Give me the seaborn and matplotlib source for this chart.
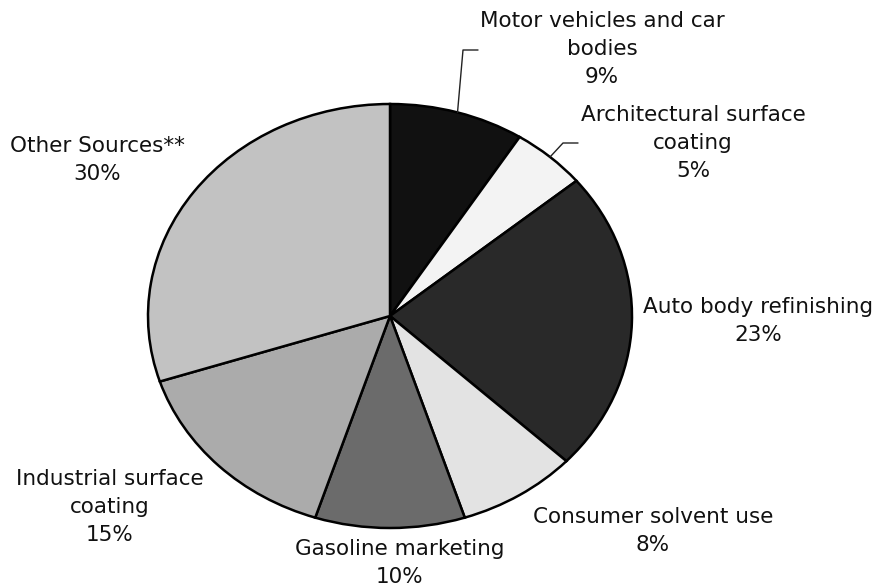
import matplotlib
matplotlib.use("Agg")
import matplotlib.pyplot as plt
from matplotlib.lines import Line2D
import numpy as np
import seaborn as sns

# Emission source shares (%), clockwise from 12 o'clock
sources = ["Motor vehicles and car\nbodies", "Architectural surface\ncoating",
           "Auto body refinishing", "Consumer solvent use", "Gasoline marketing",
           "Industrial surface\ncoating", "Other Sources**"]
shares = [9, 5, 23, 8, 10, 15, 30]
grays = ["#111111", "#f3f3f3", "#292929", "#e3e3e3", "#6b6b6b", "#ababab", "#c2c2c2"]

sns.set_style("white")
plt.rcParams["font.family"] = ["DejaVu Sans"]

W, H = 877, 588
fig = plt.figure(figsize=(W / 100, H / 100), dpi=100)

# pie is an ellipse in the original: center (390,316), radii 242 x 212 px
cx, cy, rx, ry = 390, 316, 242, 212
ax = fig.add_axes([0, 0, 1, 1])
wedges, _ = ax.pie(shares, colors=grays, startangle=90, counterclock=False,
                   wedgeprops=dict(edgecolor="black", linewidth=1.8))
ax.set_aspect("auto")
ax.set_xlim(-cx / rx, (W - cx) / rx)
ax.set_ylim(-(H - cy) / ry, cy / ry)
ax.axis("off")

# label block centres in pixels (from top-left)
label_pos = [(602, 49), (693, 143), (758, 321), (653, 531),
             (400, 563), (110, 507), (97, 160)]
for name, val, (px, py) in zip(sources, shares, label_pos):
    fig.text(px / W, 1 - py / H, f"{name}\n{val}%", ha="center", va="center",
             fontsize=15.5, linespacing=1.5, color="#111111")

# leader lines for the two narrow slices
elbows = {0: ((463, 50), (478, 50)), 1: ((563, 143), (578, 143))}
for i, (p1, p2) in elbows.items():
    w = wedges[i]
    mid = np.deg2rad((w.theta1 + w.theta2) / 2)
    sx, sy = ax.transData.transform((np.cos(mid), np.sin(mid)))
    xs = [sx / W, p1[0] / W, p2[0] / W]
    ys = [sy / H, 1 - p1[1] / H, 1 - p2[1] / H]
    fig.add_artist(Line2D(xs, ys, color="#222222", linewidth=1.0,
                          transform=fig.transFigure))

plt.savefig("out.png", dpi=100)
